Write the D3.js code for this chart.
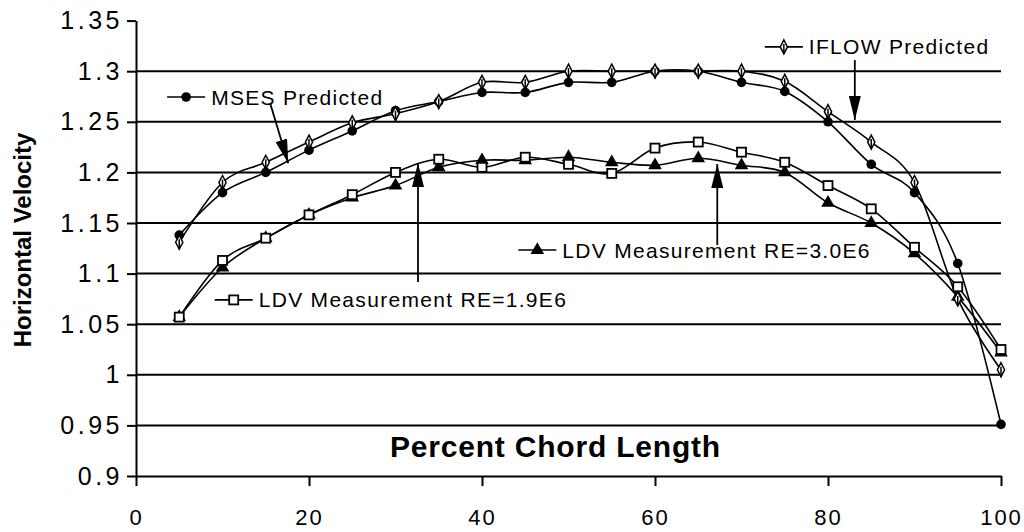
<!DOCTYPE html>
<html><head><meta charset="utf-8">
<script src="https://cdn.jsdelivr.net/npm/d3@7/dist/d3.min.js"></script>
<style>
body{margin:0;background:#fff}
svg{display:block}
text{font-family:"Liberation Sans",Arial,Helvetica,sans-serif;fill:#000}
</style>
</head><body>
<svg id="chart" width="1024" height="532"></svg>
<script>
// ---- data ----
const chord = [5,10,15,20,25,30,35,40,45,50,55,60,65,70,75,80,85,90,95,100];
const msesValues  = [1.138,1.180,1.200,1.222,1.241,1.261,1.270,1.279,1.279,1.289,1.289,1.300,1.300,1.289,1.280,1.250,1.208,1.180,1.110,0.951];
const iflowValues = [1.131,1.190,1.210,1.230,1.249,1.258,1.270,1.289,1.289,1.300,1.300,1.300,1.300,1.300,1.290,1.260,1.230,1.190,1.075,1.005];
const ldv19Values = [1.057,1.113,1.135,1.158,1.178,1.200,1.213,1.205,1.215,1.208,1.199,1.224,1.230,1.220,1.210,1.187,1.164,1.126,1.087,1.025];
const ldv30Values = [1.057,1.106,1.135,1.158,1.175,1.187,1.205,1.212,1.212,1.215,1.210,1.207,1.214,1.207,1.200,1.170,1.150,1.120,1.077,1.022];
const seriesNames = ["MSES Predicted","IFLOW Predicted","LDV Measurement RE=1.9E6","LDV Measurement RE=3.0E6"];
const xTicks = [0,20,40,60,80,100];
const yTicks = [0.9,0.95,1,1.05,1.1,1.15,1.2,1.25,1.3,1.35];
const yTickLabels = ["0.9","0.95","1","1.05","1.1","1.15","1.2","1.25","1.3","1.35"];
const gridValues = [0.95,1,1.05,1.1,1.15,1.2,1.25,1.3];
const xTitle = "Percent Chord Length";
const yTitle = "Horizontal Velocity";
// annotation anchors in data units: label (glyph start) and arrow from/to
const labelX = [3.6, 72.7, 9.1, 44.2];
const labelY = [1.2745, 1.324, 1.074, 1.1233];
const arrowFromX = [15.5, 83.1, 32.6, 67.2];
const arrowFromY = [1.2686, 1.311, 1.0917, 1.1283];
const arrowToX   = [17.6, 83.1, 32.6, 67.2];
const arrowToY   = [1.209, 1.2518, 1.2093, 1.2083];

// ---- layout ----
const svg = d3.select("#chart");
const x = d3.scaleLinear().domain([0,100]).range([136,1001]);
const y = d3.scaleLinear().domain([0.9,1.35]).range([476,20.6]);

// gridlines
svg.append("g").selectAll("line").data(gridValues).join("line")
  .attr("x1", x(0)).attr("x2", x(100))
  .attr("y1", d=>y(d)).attr("y2", d=>y(d))
  .attr("stroke","#000").attr("stroke-width",2);

// axes
const yAxis = svg.append("g").attr("transform",`translate(${x(0)},0)`)
  .call(d3.axisLeft(y).tickValues(yTicks).tickFormat((d,i)=>yTickLabels[i]).tickSize(9).tickSizeOuter(0).tickPadding(4));
yAxis.selectAll("path,line").attr("stroke","#000").attr("stroke-width",2);
yAxis.selectAll("text").attr("font-size",25).attr("letter-spacing","3.5px")
  .attr("font-family",'"Liberation Sans",Arial,sans-serif').attr("fill","#000");

const xAxis = svg.append("g").attr("transform",`translate(0,${y(0.9)})`)
  .call(d3.axisBottom(x).tickValues(xTicks).tickSize(10).tickSizeOuter(0).tickPadding(23));
xAxis.selectAll("path,line").attr("stroke","#000").attr("stroke-width",2);
xAxis.selectAll("text").attr("font-size",22).attr("letter-spacing","2px")
  .attr("font-family",'"Liberation Sans",Arial,sans-serif').attr("fill","#000");

// titles
svg.append("text").attr("x",(x(0)+x(100))/2-13).attr("y",457)
  .attr("text-anchor","middle").attr("font-size",30).attr("font-weight","bold")
  .attr("letter-spacing","0.8px").text(xTitle);
svg.append("text").attr("transform","translate(31,240) rotate(-90)")
  .attr("text-anchor","middle").attr("font-size",24).attr("font-weight","bold").text(yTitle);

// ---- series ----
const allValues = [msesValues, iflowValues, ldv19Values, ldv30Values];
const line = d3.line().x((d,i)=>x(chord[i])).y(d=>y(d)).curve(d3.curveCatmullRom.alpha(0));

allValues.forEach(vals=>{
  svg.append("path").datum(vals).attr("d",line)
    .attr("fill","none").attr("stroke","#000").attr("stroke-width",1.6);
});

function drawMarker(g, kind){
  if(kind===0){
    g.append("circle").attr("r",4.8).attr("fill","#000");
  } else if(kind===1){
    g.append("path").attr("d","M0,-7L3.6,0L0,7L-3.6,0Z").attr("fill","#fff").attr("stroke","#000").attr("stroke-width",1.5);
    g.append("line").attr("x1",0).attr("x2",0).attr("y1",-3).attr("y2",7).attr("stroke","#000").attr("stroke-width",1.5);
  } else if(kind===2){
    g.append("rect").attr("x",-4.5).attr("y",-4.5).attr("width",9).attr("height",9)
      .attr("fill","#fff").attr("stroke","#000").attr("stroke-width",1.8);
  } else {
    g.append("path").attr("d",d3.symbol(d3.symbolTriangle,80)()).attr("fill","#000");
  }
}

[3,2,0,1].forEach(k=>{
  const vals = allValues[k];
  svg.append("g").selectAll("g").data(vals).join("g")
    .attr("transform",(d,i)=>`translate(${x(chord[i])},${y(d)})`)
    .each(function(){ drawMarker(d3.select(this), k); });
});

// ---- annotations ----
svg.append("defs").append("marker").attr("id","ah")
  .attr("viewBox","0 0 24 12").attr("refX",24).attr("refY",6)
  .attr("markerWidth",24).attr("markerHeight",12).attr("markerUnits","userSpaceOnUse")
  .attr("orient","auto")
  .append("path").attr("d","M0,0L24,6L0,12Z").attr("fill","#000");

seriesNames.forEach((name,k)=>{
  const gx = x(labelX[k]), gy = y(labelY[k]);
  const g = svg.append("g").attr("transform",`translate(${gx},${gy})`);
  g.append("line").attr("x1",0).attr("x2",38).attr("y1",0).attr("y2",0)
    .attr("stroke","#000").attr("stroke-width",1.6);
  const m = g.append("g").attr("transform","translate(19,0)");
  drawMarker(m,k);
  g.append("text").attr("x",44).attr("y",7.5).attr("font-size",21)
    .attr("letter-spacing","1.3px").text(name);
  svg.append("line")
    .attr("x1",x(arrowFromX[k])).attr("y1",y(arrowFromY[k]))
    .attr("x2",x(arrowToX[k])).attr("y2",y(arrowToY[k]))
    .attr("stroke","#000").attr("stroke-width",1.8).attr("marker-end","url(#ah)");
});
</script>
</body></html>
